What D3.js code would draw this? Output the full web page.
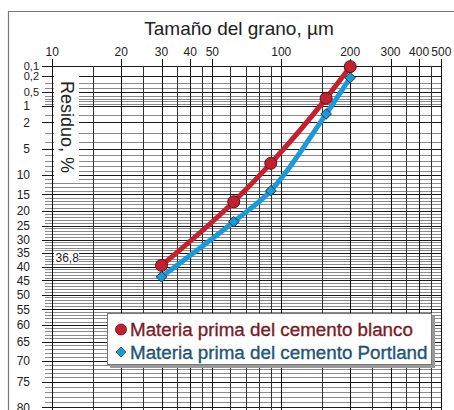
<!DOCTYPE html>
<html>
<head>
<meta charset="utf-8">
<script src="https://cdn.jsdelivr.net/npm/d3@7/dist/d3.min.js"></script>
<style>
  html, body { margin: 0; padding: 0; background: #fff; }
  svg { display: block; font-family: "Liberation Sans", Arial, sans-serif; }
</style>
</head>
<body>
<svg id="chart" width="454" height="410"></svg>
<script>
// Grain size (µm) on a log axis, residue (%) on an RRSB axis
const sizes = [30, 62, 90, 157, 200];
const residueBlanco = [39.5, 17.2, 7.5, 0.69, 0.107];
const residuePortland = [43.7, 23.7, 14.0, 1.42, 0.22];
const seriesNames = ["Materia prima del cemento blanco", "Materia prima del cemento Portland"];

const xLabelTicks = [10, 20, 30, 40, 50, 100, 200, 300, 400, 500];
const xGridTicks = [10, 15, 20, 25, 30, 35, 40, 45, 50, 60, 70, 80, 90, 100, 150, 200, 250, 300, 350, 400, 450, 500];
const yLabelTicks = [0.1, 0.2, 0.5, 1, 2, 5, 10, 15, 20, 25, 30, 35, 40, 45, 50, 55, 60, 65, 70, 75, 80];
const yGridTicks = [0.1, 0.2, 0.3, 0.4, 0.5, 0.6, 0.7, 0.8, 0.9, 1, 1.5, 2, 3, 4, 5, 6, 7, 8, 9]
  .concat(d3.range(10, 81, 1));

const svg = d3.select("#chart");

// x: log scale; y: linear in ln(ln(100/R))
const x = d3.scaleLog().domain([10, 500]).range([52.3, 441.3]);
const rr = R => Math.log(Math.log(100 / R));
const yT = d3.scaleLinear().domain([rr(0.1), rr(80)]).range([65.7, 407.3]);
const y = R => yT(rr(R));

const fmt = v => String(v).replace(".", ",");

// frame
svg.append("path")
  .attr("d", "M8.5,412 V11.5 H454")
  .attr("fill", "none").attr("stroke", "#777").attr("stroke-width", 1.2);

// title
svg.append("text")
  .attr("x", 239).attr("y", 35)
  .attr("text-anchor", "middle")
  .attr("font-size", 19).attr("fill", "#222")
  .text("Tamaño del grano, µm");

const grid = svg.append("g").attr("shape-rendering", "crispEdges");

// horizontal grid
const yLab = new Set(yLabelTicks);
grid.selectAll("line.h").data(yGridTicks).join("line")
  .attr("class", "h")
  .attr("x1", d => yLab.has(d) ? 42 : 45)
  .attr("x2", x(500))
  .attr("y1", d => Math.round(y(d)) + 0.5)
  .attr("y2", d => Math.round(y(d)) + 0.5)
  .attr("stroke", d => yLab.has(d) ? "#1a1a1a" : "#8a8a8a")
  .attr("stroke-width", 1);

// vertical grid
const xLab = new Set(xLabelTicks);
grid.selectAll("line.v").data(xGridTicks).join("line")
  .attr("class", "v")
  .attr("x1", d => Math.round(x(d)) + 0.5)
  .attr("x2", d => Math.round(x(d)) + 0.5)
  .attr("y1", d => xLab.has(d) ? 59 : y(0.1))
  .attr("y2", 412)
  .attr("stroke", d => xLab.has(d) ? "#111" : "#333")
  .attr("stroke-width", 1);

// x tick labels
svg.append("g").selectAll("text").data(xLabelTicks).join("text")
  .attr("x", d => x(d)).attr("y", 56)
  .attr("text-anchor", "middle")
  .attr("font-size", 12).attr("fill", "#222")
  .text(d => d);

// y tick labels
svg.append("g").selectAll("text").data(yLabelTicks).join("text")
  .attr("x", d => d < 1 ? 39 : 30)
  .attr("y", d => y(d) + (d < 1 ? 3.8 : 4.3))
  .attr("text-anchor", "end")
  .attr("font-size", d => d < 1 ? 11 : 12).attr("fill", "#222")
  .text(d => fmt(d));

// axis title box
svg.append("rect").attr("x", 54).attr("y", 75).attr("width", 25).attr("height", 106).attr("fill", "#fff");
svg.append("text")
  .attr("transform", "translate(61,81) rotate(90)")
  .attr("font-size", 18).attr("fill", "#222")
  .text("Residuo, %");

// characteristic residue 36,8 %
svg.append("rect").attr("x", 54).attr("y", 252).attr("width", 25).attr("height", 12).attr("fill", "#fff");
svg.append("text")
  .attr("x", 55.5).attr("y", y(36.8) + 4.3)
  .attr("font-size", 12).attr("fill", "#222")
  .text("36,8");

// curves
const colRed = "#c5202e", colBlue = "#1a9ad8";
const line = d3.line().x(d => x(d[0])).y(d => y(d[1])).curve(d3.curveMonotoneX);
const dataRed = sizes.map((s, i) => [s, residueBlanco[i]]);
const dataBlue = sizes.map((s, i) => [s, residuePortland[i]]);

svg.append("path").datum(dataBlue).attr("d", line)
  .attr("fill", "none").attr("stroke", colBlue).attr("stroke-width", 5);
svg.append("path").datum(dataRed).attr("d", line)
  .attr("fill", "none").attr("stroke", colRed).attr("stroke-width", 5);

const diamond = d3.symbol().type(d3.symbolDiamond2).size(72);
svg.append("g").selectAll("path").data(dataBlue).join("path")
  .attr("transform", d => `translate(${x(d[0])},${y(d[1])})`)
  .attr("d", diamond)
  .attr("fill", colBlue).attr("stroke", "#163a52").attr("stroke-width", 1);
svg.append("g").selectAll("circle").data(dataRed).join("circle")
  .attr("cx", d => x(d[0])).attr("cy", d => y(d[1])).attr("r", 6)
  .attr("fill", colRed).attr("stroke", "#5a0f16").attr("stroke-width", 1);

// legend
const lg = svg.append("g");
lg.append("rect").attr("x", 110).attr("y", 316).attr("width", 325).attr("height", 52).attr("fill", "#9a9a9a");
lg.append("rect").attr("x", 107.5).attr("y", 313.5).attr("width", 324).attr("height", 51)
  .attr("fill", "#fff").attr("stroke", "#777").attr("stroke-width", 1);
lg.append("circle").attr("cx", 121).attr("cy", 329.5).attr("r", 5.5)
  .attr("fill", colRed).attr("stroke", "#5a0f16").attr("stroke-width", 0.8);
lg.append("path").attr("transform", "translate(121,352)").attr("d", d3.symbol().type(d3.symbolDiamond2).size(64))
  .attr("fill", colBlue).attr("stroke", "#163a52").attr("stroke-width", 0.8);
lg.append("text").attr("x", 130).attr("y", 336)
  .attr("font-size", 18.8).attr("fill", "#8e1a28").attr("stroke", "#4a0d14").attr("stroke-width", 0.3)
  .text(seriesNames[0]);
lg.append("text").attr("x", 130).attr("y", 358.5)
  .attr("font-size", 18.8).attr("fill", "#1d5f86").attr("stroke", "#0f2f44").attr("stroke-width", 0.3)
  .text(seriesNames[1]);
</script>
</body>
</html>
